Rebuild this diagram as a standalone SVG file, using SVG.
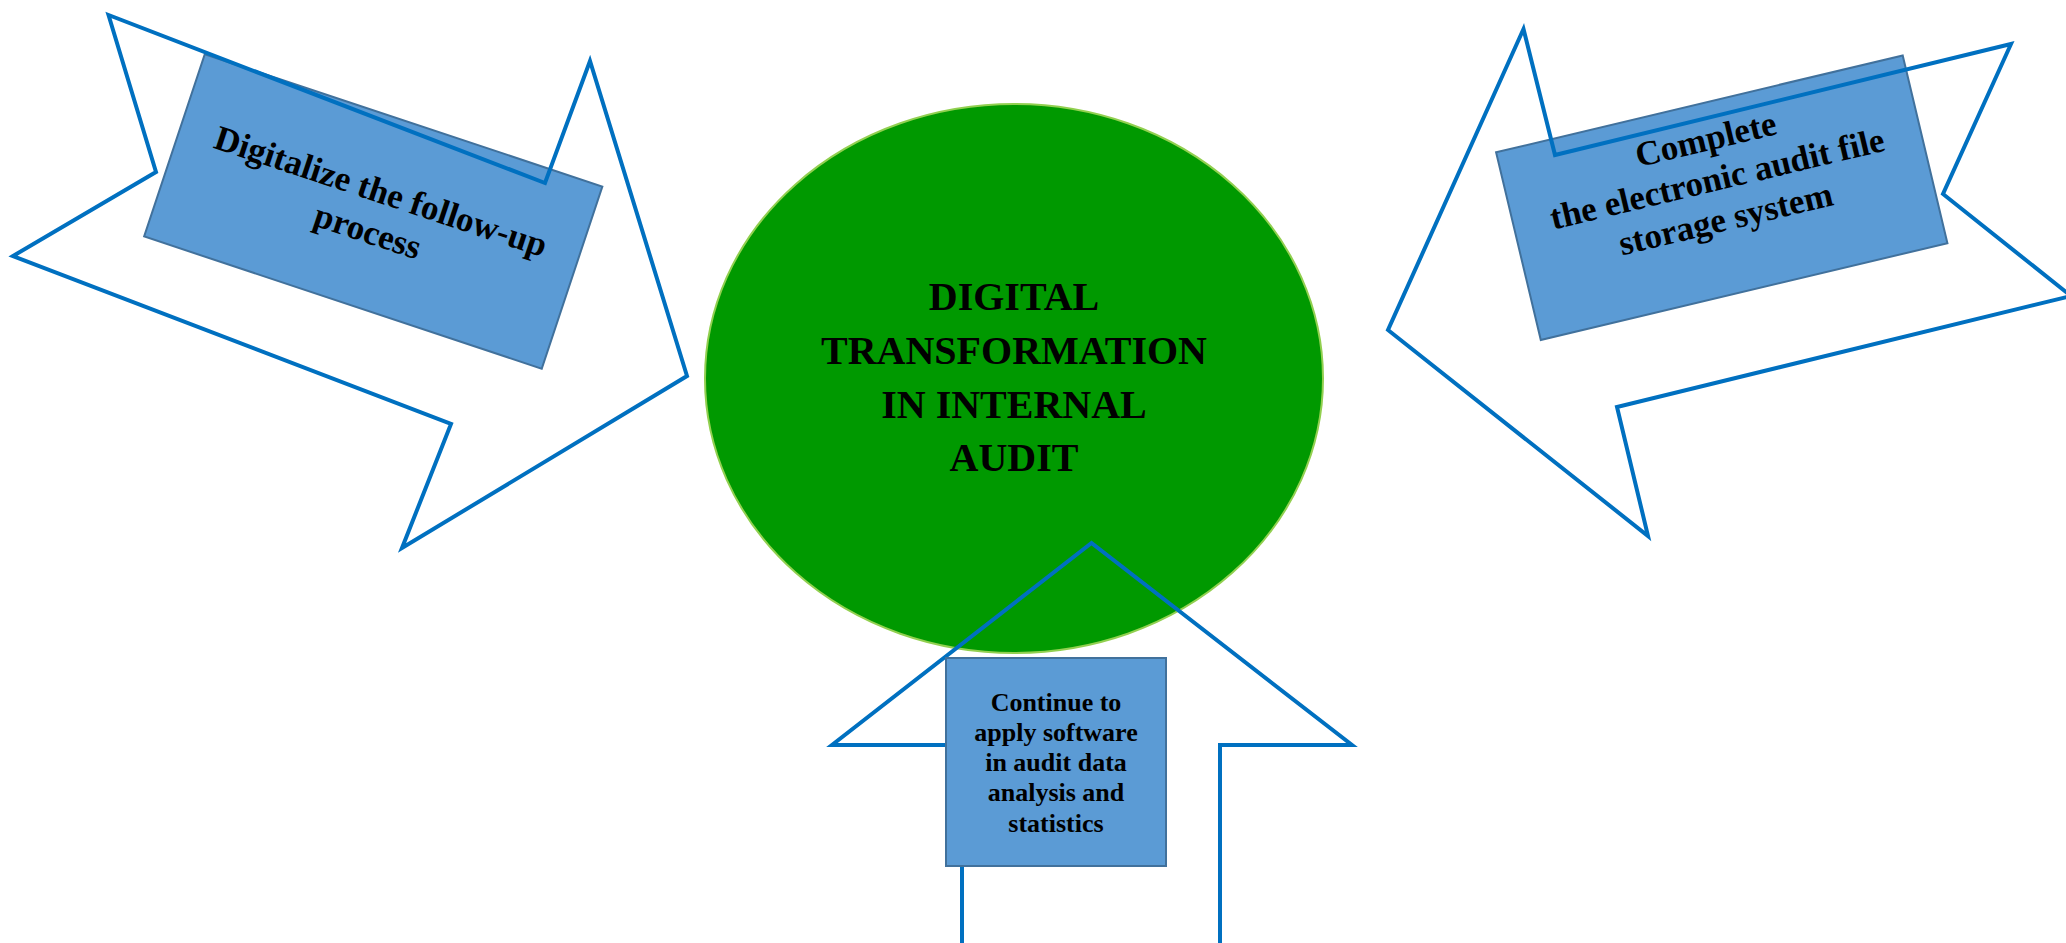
<svg xmlns="http://www.w3.org/2000/svg" width="2066" height="943" viewBox="0 0 2066 943">
  <style>
    .arrow { fill: none; stroke: #0070C0; stroke-width: 4; stroke-linejoin: miter; }
    .box { fill: #5B9BD5; stroke: #41719C; stroke-width: 2; }
    .t { font-family: "Liberation Serif", "Times New Roman", serif; font-weight: bold; fill: #000; text-anchor: middle; }
  </style>
  <rect x="0" y="0" width="2066" height="943" fill="#ffffff"/>

  <g id="center">
    <ellipse cx="1014" cy="378.5" rx="309" ry="274.5" fill="#009900" stroke="#92D050" stroke-width="2"/>
    <text class="t" font-size="40" x="1014" y="310">DIGITAL</text>
    <text class="t" font-size="40" x="1014" y="364">TRANSFORMATION</text>
    <text class="t" font-size="40" x="1014" y="418">IN INTERNAL</text>
    <text class="t" font-size="40" x="1014" y="471">AUDIT</text>
  </g>

  <g id="connectors">
    <polyline class="arrow" points="962,960 962,745 832,745 1091.5,543 1352,745 1220,745 1220,960"/>
  </g>

  <g id="node-bottom">
    <rect class="box" x="946" y="658" width="220" height="208"/>
    <text class="t" font-size="26" x="1056" y="711">Continue to</text>
    <text class="t" font-size="26" x="1056" y="741">apply software</text>
    <text class="t" font-size="26" x="1056" y="771">in audit data</text>
    <text class="t" font-size="26" x="1056" y="801">analysis and</text>
    <text class="t" font-size="26" x="1056" y="832">statistics</text>
  </g>

  <g id="node-left">
    <g transform="translate(373.25,211.5) rotate(18.4)">
      <rect class="box" x="-209.5" y="-96" width="419" height="192"/>
      <text class="t" font-size="35" x="1" y="-10">Digitalize the follow-up</text>
      <text class="t" font-size="35" x="1" y="32">process</text>
    </g>
  </g>

  <g id="node-right">
    <g transform="translate(1721.75,197.75) rotate(-13.4)">
      <rect class="box" x="-209" y="-96.5" width="418" height="193"/>
      <text class="t" font-size="35" x="-2" y="-49">Complete</text>
      <text class="t" font-size="35" x="0" y="-8">the electronic audit file</text>
      <text class="t" font-size="35" x="-1" y="33">storage system</text>
    </g>
  </g>

  <g id="arrows">
    <polygon id="arrow-left" class="arrow" points="108.5,15 156,172 13,256 451,424 402,548 687,376 590,61 545,183"/>
    <polygon id="arrow-right" class="arrow" points="1523.5,29 1555,155 2011,44 1943,194 2071,296 1617,407 1648,536 1388,330"/>
  </g>
</svg>
